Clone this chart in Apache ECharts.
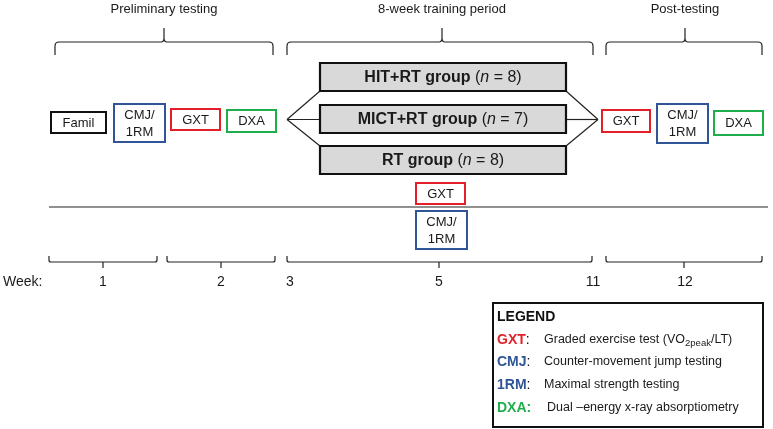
<!DOCTYPE html>
<html><head><meta charset="utf-8">
<script src="https://cdn.jsdelivr.net/npm/echarts@6/dist/echarts.min.js"></script>
<style>html,body{margin:0;padding:0;background:#fff}#c{width:773px;height:429px}</style>
</head><body><div id="c"></div>
<script>
// ---- content (data) ----
const phaseLabels = ['Preliminary testing', '8-week training period', 'Post-testing'];
const weekLabels = ['1', '2', '3', '5', '11', '12'];
const weekTitle = 'Week:';
const boxLabels = ['Famil', 'CMJ/\n1RM', 'GXT', 'DXA', 'GXT', 'CMJ/\n1RM', 'GXT', 'CMJ/\n1RM', 'DXA'];
const boxKinds = ['famil', 'cmj', 'gxt', 'dxa', 'gxt', 'cmj', 'gxt', 'cmj', 'dxa'];
const groupNames = ['HIT+RT', 'MICT+RT', 'RT'];
const groupN = [8, 7, 8];
const legendTitle = 'LEGEND';
const legendKeys = ['GXT', 'CMJ', '1RM', 'DXA'];
const legendKinds = ['gxt', 'cmj', 'cmj', 'dxa'];
const legendDesc = ['Graded exercise test (VO{s|2peak}/LT)', 'Counter-movement jump testing', 'Maximal strength testing', 'Dual \u2013energy x-ray absorptiometry'];

// ---- layout (diagram coordinates) ----
const phaseSpans = [[55, 273, 164], [287, 593, 442], [606, 762, 685]];
const weekX = [103, 221, 290, 439, 593, 685];
const weekBraces = [[49, 157, 103], [167, 275, 221], [287, 592, 439], [606, 762, 684]];
const boxRects = [[51, 112, 106, 133], [114, 104, 165, 142], [171, 109, 220, 130], [227, 110, 276, 132],
  [416, 183, 465, 204], [416, 211, 467, 249],
  [602, 110, 650, 132], [657, 104, 708, 143], [714, 111, 763, 135]];
const groupRects = [[320, 63, 566, 91], [320, 105, 566, 133], [320, 146, 566, 174]];
const connectors = [[287, 119.5, 320, 91], [287, 119.5, 320, 119.5], [287, 119.5, 320, 146],
  [598, 119.5, 566, 91], [598, 119.5, 566, 119.5], [598, 119.5, 566, 146], [49, 207, 768, 207]];
const legendRect = [493, 303, 763, 427];
const legendRowY = [340, 362, 385, 408];

// ---- styles ----
const FONT = "'Liberation Sans', Arial, sans-serif";
const kindColor = {famil: '#111111', cmj: '#2f5597', gxt: '#e3202a', dxa: '#1fae4c'};
const textColor = '#1a1a1a';

const chart = echarts.init(document.getElementById('c'), null, {renderer: 'canvas'});

function rectOf(api) {
  const a = api.coord([api.value(0), api.value(1)]);
  const b = api.coord([api.value(2), api.value(3)]);
  return {x: a[0], y: a[1], width: b[0] - a[0], height: b[1] - a[1]};
}

const option = {
  animation: false,
  grid: {left: 0, right: 0, top: 0, bottom: 0},
  xAxis: {type: 'value', min: 0, max: 773, show: false},
  yAxis: {type: 'value', min: 0, max: 429, inverse: true, show: false},
  series: [
    { // connector lines
      type: 'custom', clip: false, silent: true,
      data: connectors,
      renderItem(params, api) {
        const a = api.coord([api.value(0), api.value(1)]);
        const b = api.coord([api.value(2), api.value(3)]);
        return {type: 'line', shape: {x1: a[0], y1: a[1], x2: b[0], y2: b[1]},
          style: {stroke: '#222', lineWidth: 1.2}};
      }
    },
    { // top phase braces + labels
      type: 'custom', clip: false, silent: true,
      data: phaseSpans,
      renderItem(params, api) {
        const l = api.coord([api.value(0), 42]);
        const r = api.coord([api.value(1), 42]);
        const c = api.coord([api.value(2), 42]);
        const yE = api.coord([0, 55])[1], yM = l[1], yT = api.coord([0, 28])[1];
        const x1 = l[0], x2 = r[0], cx = c[0];
        const d = `M${x1},${yE} L${x1},${yM + 4} Q${x1},${yM} ${x1 + 4},${yM} L${cx - 3},${yM} Q${cx},${yM} ${cx},${yM - 4} L${cx},${yT}` +
          ` M${cx},${yM - 4} Q${cx},${yM} ${cx + 3},${yM} L${x2 - 4},${yM} Q${x2},${yM} ${x2},${yM + 4} L${x2},${yE}`;
        const t = api.coord([api.value(2), 9]);
        return {type: 'group', children: [
          {type: 'path', shape: {pathData: d}, style: {fill: null, stroke: '#222', lineWidth: 1.2}},
          {type: 'text', style: {x: t[0], y: t[1], text: phaseLabels[params.dataIndex], align: 'center', verticalAlign: 'middle',
            font: `13px ${FONT}`, fill: textColor}}
        ]};
      }
    },
    { // week braces
      type: 'custom', clip: false, silent: true,
      data: weekBraces,
      renderItem(params, api) {
        const l = api.coord([api.value(0), 262]);
        const r = api.coord([api.value(1), 262]);
        const c = api.coord([api.value(2), 262]);
        const yE = api.coord([0, 256])[1], yM = l[1], yT = api.coord([0, 268])[1];
        const x1 = l[0], x2 = r[0], cx = c[0];
        const d = `M${x1},${yE} L${x1},${yM - 2} Q${x1},${yM} ${x1 + 2},${yM} L${x2 - 2},${yM} Q${x2},${yM} ${x2},${yM - 2} L${x2},${yE}` +
          ` M${cx},${yM} L${cx},${yT}`;
        return {type: 'path', shape: {pathData: d}, style: {fill: null, stroke: '#222', lineWidth: 1.2}};
      }
    },
    { // week labels
      type: 'custom', clip: false, silent: true,
      data: weekX.map(x => [x, 282]),
      renderItem(params, api) {
        const p = api.coord([api.value(0), api.value(1)]);
        return {type: 'text', style: {x: p[0], y: p[1], text: weekLabels[params.dataIndex], align: 'center', verticalAlign: 'middle',
          font: `14px ${FONT}`, fill: textColor}};
      }
    },
    { // week title
      type: 'custom', clip: false, silent: true,
      data: [[3, 282]],
      renderItem(params, api) {
        const p = api.coord([api.value(0), api.value(1)]);
        return {type: 'text', style: {x: p[0], y: p[1], text: weekTitle, align: 'left', verticalAlign: 'middle',
          font: `14px ${FONT}`, fill: textColor}};
      }
    },
    { // test boxes
      type: 'custom', clip: false, silent: true,
      data: boxRects,
      renderItem(params, api) {
        const r = rectOf(api);
        const i = params.dataIndex;
        return {type: 'group', children: [
          {type: 'rect', shape: r, style: {fill: '#fff', stroke: kindColor[boxKinds[i]], lineWidth: 2}},
          {type: 'text', style: {x: r.x + r.width / 2, y: r.y + r.height / 2 + 0.5, text: boxLabels[i], align: 'center', verticalAlign: 'middle',
            font: `13px ${FONT}`, lineHeight: 17, fill: textColor}}
        ]};
      }
    },
    { // group boxes
      type: 'custom', clip: false, silent: true,
      data: groupRects,
      renderItem(params, api) {
        const r = rectOf(api);
        const i = params.dataIndex;
        return {type: 'group', children: [
          {type: 'rect', shape: r, style: {fill: '#d9d9d9', stroke: '#111', lineWidth: 2.2}},
          {type: 'text', style: {x: r.x + r.width / 2, y: r.y + r.height / 2 + 1,
            text: `{b|${groupNames[i]} group }{r|(}{i|n}{r| = ${groupN[i]})}`, align: 'center', verticalAlign: 'middle',
            fill: textColor,
            rich: {
              b: {font: `bold 16px ${FONT}`, fill: textColor},
              r: {font: `16px ${FONT}`, fill: textColor},
              i: {font: `italic 16px ${FONT}`, fill: textColor}
            }}}
        ]};
      }
    },
    { // legend box
      type: 'custom', clip: false, silent: true,
      data: [legendRect],
      renderItem(params, api) {
        const r = rectOf(api);
        const t = api.coord([497, 317]);
        return {type: 'group', children: [
          {type: 'rect', shape: r, style: {fill: '#fff', stroke: '#111', lineWidth: 2}},
          {type: 'text', style: {x: t[0], y: t[1], text: legendTitle, align: 'left', verticalAlign: 'middle',
            font: `bold 14px ${FONT}`, fill: '#111'}}
        ]};
      }
    },
    { // legend rows
      type: 'custom', clip: false, silent: true,
      data: legendRowY.map(y => [497, y]),
      renderItem(params, api) {
        const i = params.dataIndex;
        const p = api.coord([api.value(0), api.value(1)]);
        const d = api.coord([legendKinds[i] === 'dxa' ? 547 : 544, api.value(1)]);
        const col = kindColor[legendKinds[i]];
        const colonCol = legendKinds[i] === 'dxa' ? col : '#111';
        return {type: 'group', children: [
          {type: 'text', style: {x: p[0], y: p[1], text: `{k|${legendKeys[i]}}{c|:}`, align: 'left', verticalAlign: 'middle',
            rich: {k: {font: `bold 14px ${FONT}`, fill: col}, c: {font: `${legendKinds[i] === 'dxa' ? 'bold ' : ''}14px ${FONT}`, fill: colonCol}}}},
          {type: 'text', style: {x: d[0], y: d[1], text: `{t|${legendDesc[i].replace('{s|2peak}', '}{s|2peak}{t|')}}`, align: 'left', verticalAlign: 'middle',
            rich: {
              t: {font: `12.5px ${FONT}`, fill: textColor, lineHeight: 16, verticalAlign: 'middle'},
              s: {font: `9.5px ${FONT}`, fill: textColor, lineHeight: 9, verticalAlign: 'bottom'}
            }}}
        ]};
      }
    }
  ]
};
chart.setOption(option);
</script>
</body></html>
